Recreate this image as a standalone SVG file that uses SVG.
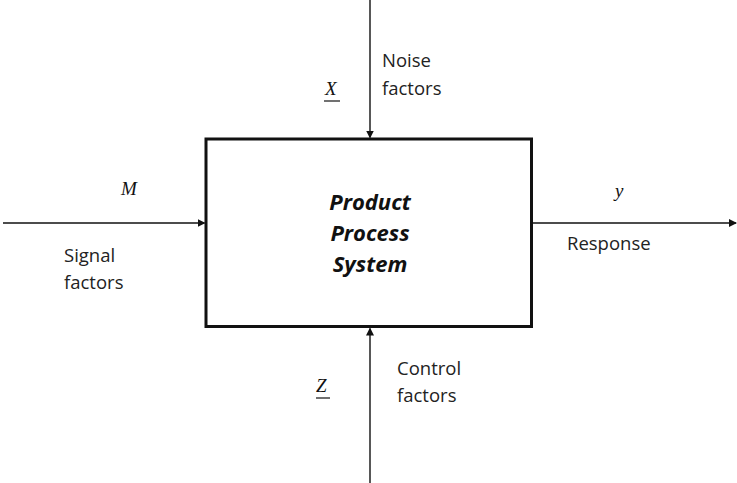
<svg xmlns="http://www.w3.org/2000/svg" width="737" height="483" viewBox="0 0 737 483">
  <style>
    .lbl { font-family: "Open Sans", "Liberation Sans", sans-serif; font-size: 18.5px; fill: #222; }
    .var { font-family: "Liberation Serif", serif; font-style: italic; font-size: 19px; fill: #111; }
    .sys { font-family: "Open Sans", "Liberation Sans", sans-serif; font-style: italic; font-weight: bold; font-size: 22px; fill: #111; text-anchor: middle; }
    .wire { stroke: #111; stroke-width: 1.4; fill: none; marker-end: url(#head); }
  </style>
  <defs>
    <marker id="head" markerWidth="8" markerHeight="8" refX="7" refY="4" orient="auto" markerUnits="userSpaceOnUse">
      <path d="M0,0 L8,4 L0,8 Z" fill="#111"/>
    </marker>
  </defs>
  <rect width="737" height="483" fill="#fff"/>

  <g id="connectors">
    <line class="wire" x1="370" y1="0" x2="370" y2="137.5"/>
    <line class="wire" x1="3" y1="223" x2="204.5" y2="223"/>
    <line class="wire" x1="533" y1="223" x2="736" y2="223"/>
    <line class="wire" x1="370" y1="483" x2="370" y2="328.5"/>
  </g>

  <g id="system">
    <rect x="206" y="139" width="325.5" height="187.5" fill="#fff" stroke="#111" stroke-width="3"/>
    <text class="sys" x="370" y="210">Product</text>
    <text class="sys" x="370" y="241">Process</text>
    <text class="sys" x="370" y="272">System</text>
  </g>

  <g id="noise">
    <text class="lbl" x="382" y="67">Noise</text>
    <text class="lbl" x="382" y="95">factors</text>
    <text class="var" x="325" y="95">X</text>
    <line x1="324" y1="101" x2="340" y2="101" stroke="#111" stroke-width="1.2"/>
  </g>

  <g id="signal">
    <text class="var" x="121" y="195">M</text>
    <text class="lbl" x="64" y="262">Signal</text>
    <text class="lbl" x="64" y="289">factors</text>
  </g>

  <g id="response">
    <text class="var" x="615" y="197">y</text>
    <text class="lbl" x="567" y="250">Response</text>
  </g>

  <g id="control">
    <text class="lbl" x="397" y="375">Control</text>
    <text class="lbl" x="397" y="402">factors</text>
    <text class="var" x="316" y="392">Z</text>
    <line x1="316" y1="398" x2="330" y2="398" stroke="#111" stroke-width="1.2"/>
  </g>
</svg>
